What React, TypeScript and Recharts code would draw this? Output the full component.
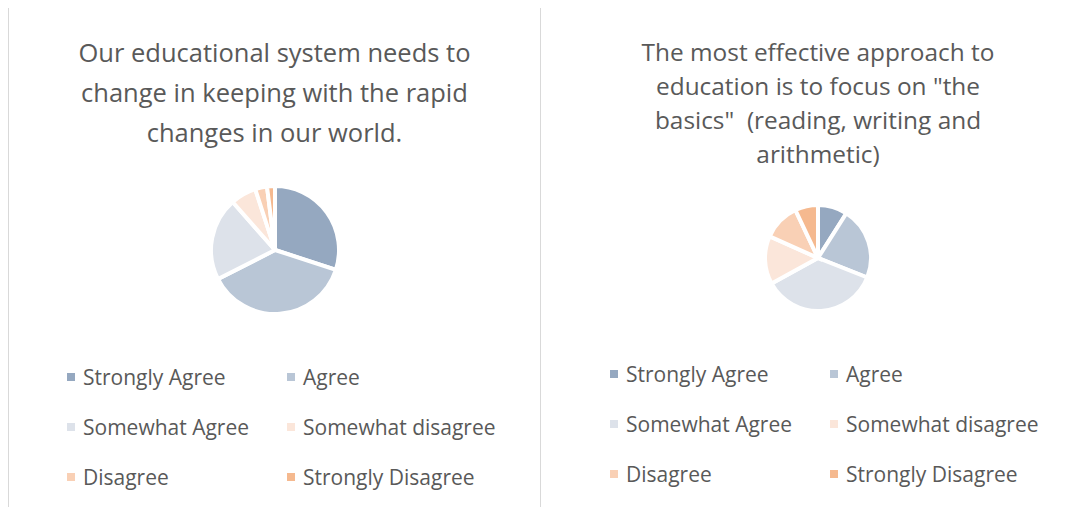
import React from 'react';
import { PieChart, Pie, Cell, Legend } from 'recharts';

// survey answer categories (same for both questions)
const categories = [
  'Strongly Agree',
  'Agree',
  'Somewhat Agree',
  'Somewhat disagree',
  'Disagree',
  'Strongly Disagree',
];

// share of answers, percent
const changeValues = [30, 37.5, 21, 6.5, 3, 2];
const basicsValues = [9, 22, 36, 14.7, 11.3, 7];

const changeTitle = [
  'Our educational system needs to',
  'change in keeping with the rapid',
  'changes in our world.',
];
const basicsTitle = [
  'The most effective approach to',
  'education is to focus on "the',
  'basics"  (reading, writing and',
  'arithmetic)',
];

const sliceColors = ['#95a8c0', '#b9c6d6', '#dde2ea', '#fbe6da', '#f9d0b5', '#f5b98f'];

const FONT = '"Open Sans", sans-serif';
const TEXT = '#595959';
const BORDER = '#d9d9d9';

interface PanelProps {
  width: number;
  height: number;
  title: string[];
  titleSize: number;
  titleTop: number;
  lineHeight: number;
  values: number[];
  cx: number;
  cy: number;
  radius: number;
  legendLeft: number;
  legendTop: number;
}

const buildRows = (values: number[]) =>
  categories.map((name, i) => ({ name, value: values[i] }));

const SurveyPie = (p: PanelProps) => {
  const data = buildRows(p.values);

  const renderLegend = () => (
    <div style={{ position: 'relative', width: '100%', height: 130 }}>
      {categories.map((name, i) => {
        const col = i % 2;
        const row = Math.floor(i / 2);
        return (
          <div
            key={name}
            style={{
              position: 'absolute',
              left: col * 220,
              top: row * 50,
              height: 24,
              display: 'flex',
              alignItems: 'center',
              whiteSpace: 'nowrap',
              fontFamily: FONT,
              fontSize: 21,
              color: TEXT,
            }}
          >
            <span
              style={{
                display: 'inline-block',
                width: 8,
                height: 8,
                marginRight: 8,
                background: sliceColors[i],
              }}
            />
            {name}
          </div>
        );
      })}
    </div>
  );

  return (
    <div style={{ position: 'relative', width: p.width, height: p.height }}>
      <div
        style={{
          position: 'absolute',
          left: 0,
          top: p.titleTop,
          width: p.width,
          textAlign: 'center',
          fontFamily: FONT,
          fontSize: p.titleSize,
          lineHeight: `${p.lineHeight}px`,
          color: TEXT,
          whiteSpace: 'pre',
        }}
      >
        {p.title.map((line) => (
          <div key={line}>{line}</div>
        ))}
      </div>
      <PieChart
        width={p.width}
        height={p.height}
        margin={{ top: 0, right: 0, bottom: 0, left: 0 }}
        style={{ position: 'absolute', left: 0, top: 0 }}
      >
        <Pie
          data={data}
          dataKey="value"
          nameKey="name"
          cx={p.cx}
          cy={p.cy}
          outerRadius={p.radius}
          startAngle={90}
          endAngle={-270}
          stroke="#ffffff"
          strokeWidth={4}
          isAnimationActive={false}
        >
          {data.map((d, i) => (
            <Cell key={d.name} fill={sliceColors[i]} />
          ))}
        </Pie>
        <Legend
          content={renderLegend}
          wrapperStyle={{ left: p.legendLeft, top: p.legendTop, width: 460, height: 130, bottom: 'auto' }}
        />
      </PieChart>
    </div>
  );
};

export default function App() {
  return (
    <div style={{ position: 'relative', width: 1075, height: 500, marginTop: -1, overflow: 'hidden', background: '#fff' }}>
      <div
        style={{
          position: 'absolute',
          left: 0,
          top: 0,
          width: 533,
          height: 510,
          boxSizing: 'border-box',
          borderLeft: `1px solid ${BORDER}`,
          borderTop: `1px solid ${BORDER}`,
          borderRight: `1px solid ${BORDER}`,
        }}
      >
        <SurveyPie
          width={531}
          height={500}
          title={changeTitle}
          titleSize={25.5}
          titleTop={24}
          lineHeight={40}
          values={changeValues}
          cx={266}
          cy={242}
          radius={64}
          legendLeft={58}
          legendTop={357}
        />
      </div>
      <div
        style={{
          position: 'absolute',
          left: 533,
          top: 0,
          width: 560,
          height: 510,
          boxSizing: 'border-box',
          borderTop: `1px solid ${BORDER}`,
        }}
      >
        <SurveyPie
          width={554}
          height={500}
          title={basicsTitle}
          titleSize={24.4}
          titleTop={27}
          lineHeight={34}
          values={basicsValues}
          cx={277}
          cy={250}
          radius={53}
          legendLeft={69}
          legendTop={354}
        />
      </div>
    </div>
  );
}
